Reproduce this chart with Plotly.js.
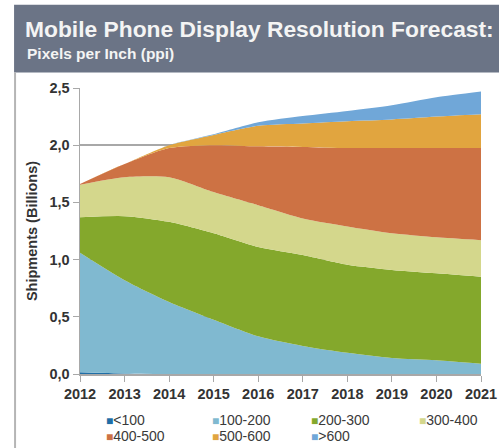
<!DOCTYPE html>
<html>
<head>
<meta charset="utf-8">
<script src="https://cdn.plot.ly/plotly-3.0.1.min.js"></script>
<style>
html,body{margin:0;padding:0;background:#fff;}
#chart{width:499px;height:448px;}
</style>
</head>
<body>
<div id="chart"></div>
<script>
// ---- data ----
const years = [2012, 2013, 2014, 2015, 2016, 2017, 2018, 2019, 2020, 2021];
const seriesNames = ["<100", "100-200", "200-300", "300-400", "400-500", "500-600", ">600"];
const ppiUnder100 = [0.015, 0.005, 0, 0, 0, 0, 0, 0, 0, 0];
const ppi100to200 = [1.045, 0.815, 0.63, 0.475, 0.33, 0.245, 0.185, 0.14, 0.12, 0.09];
const ppi200to300 = [0.31, 0.56, 0.70, 0.755, 0.78, 0.795, 0.77, 0.77, 0.76, 0.76];
const ppi300to400 = [0.285, 0.34, 0.39, 0.36, 0.365, 0.32, 0.335, 0.32, 0.315, 0.32];
const ppi400to500 = [0.005, 0.115, 0.255, 0.41, 0.515, 0.625, 0.685, 0.745, 0.78, 0.805];
const ppi500to600 = [0, 0, 0.025, 0.09, 0.18, 0.205, 0.235, 0.25, 0.275, 0.295];
const ppiOver600 = [0, 0, 0, 0.005, 0.03, 0.065, 0.09, 0.125, 0.17, 0.20];
const yTickVals = [0, 0.5, 1, 1.5, 2, 2.5];

const seriesValues = [ppiUnder100, ppi100to200, ppi200to300, ppi300to400, ppi400to500, ppi500to600, ppiOver600];
const colors = ["#1f6ea6", "#80b9d0", "#84a82c", "#d4d78c", "#cd7244", "#e1a53f", "#70a7d8"];

// ---- geometry helpers (pixel -> paper) ----
const L = 80, R = 481.4, T = 87.5, B = 374.5;
const W = 499, H = 448;
const px = X => (X - L) / (R - L);
const py = Y => (B - Y) / (B - T);
const FONT = "Liberation Sans, Arial, sans-serif";

const traces = seriesNames.map((n, i) => ({
  type: "scatter",
  mode: "lines",
  name: n,
  x: years,
  y: seriesValues[i],
  stackgroup: "one",
  line: {width: 0, shape: "spline", smoothing: 0.7, color: colors[i]},
  fillcolor: colors[i],
  showlegend: false,
  hoverinfo: "x+y+name"
}));

// legend as annotations built from names/colors
const legendCols = [104, 210, 309, 417];
const legendRows = [421, 437];
const annotations = seriesNames.map((n, i) => ({
  xref: "paper", yref: "paper",
  x: px(legendCols[i % 4]), y: py(legendRows[Math.floor(i / 4)]),
  xanchor: "left", yanchor: "middle",
  text: '<span style="color:' + colors[i] + ';font-size:12px">■</span>' + n.replace("<", "&lt;").replace(">", "&gt;"),
  showarrow: false,
  font: {family: FONT, size: 14, color: "#3a3a3a"}
}));
annotations.push({
  xref: "paper", yref: "paper",
  x: px(25), y: py(53),
  xanchor: "left", yanchor: "middle",
  text: "<b>Pixels per Inch (ppi)</b>",
  showarrow: false,
  font: {family: FONT, size: 15.5, color: "#f4f4f4"}
});

const shapes = [
  {type: "rect", xref: "paper", yref: "paper", x0: px(14), x1: px(505), y0: py(72), y1: py(4),
   fillcolor: "#6b7486", line: {width: 0}, layer: "below"},
  {type: "line", xref: "paper", yref: "paper", x0: px(15), x1: px(15), y0: py(72), y1: py(452),
   line: {color: "#b5b5b5", width: 2}}
];

const layout = {
  width: W, height: H,
  margin: {l: L, r: W - R, t: T, b: H - B},
  paper_bgcolor: "#ffffff",
  plot_bgcolor: "#ffffff",
  separators: ", ",
  showlegend: false,
  title: {
    text: "<b>Mobile Phone Display Resolution Forecast:</b>",
    xref: "container", yref: "container",
    x: 25 / W, xanchor: "left",
    y: 1 - 29 / H, yanchor: "middle",
    font: {family: FONT, size: 22.8, color: "#f4f4f4"}
  },
  xaxis: {
    range: [2012, 2021],
    tickvals: years,
    ticktext: years.map(String),
    showgrid: false,
    zeroline: false,
    showline: true, linecolor: "#a8a8a8", linewidth: 1.5,
    ticks: "outside", ticklen: 6, tickcolor: "#a8a8a8",
    tickfont: {family: FONT, size: 14.5, color: "#333333", weight: "bold"}
  },
  yaxis: {
    range: [0, 2.5],
    tickvals: yTickVals,
    tickformat: ".1f",
    showgrid: true, gridcolor: "#a8a8a8", gridwidth: 1.5,
    zeroline: false,
    showline: true, linecolor: "#a8a8a8", linewidth: 1.5,
    ticks: "outside", ticklen: 6, tickcolor: "#a8a8a8",
    tickfont: {family: FONT, size: 14.5, color: "#333333", weight: "bold"},
    title: {
      text: "<b>Shipments (Billions)</b>",
      standoff: 8,
      font: {family: FONT, size: 14.5, color: "#333333"}
    }
  },
  shapes: shapes,
  annotations: annotations
};

Plotly.newPlot("chart", traces, layout, {displayModeBar: false, staticPlot: true});
</script>
</body>
</html>
